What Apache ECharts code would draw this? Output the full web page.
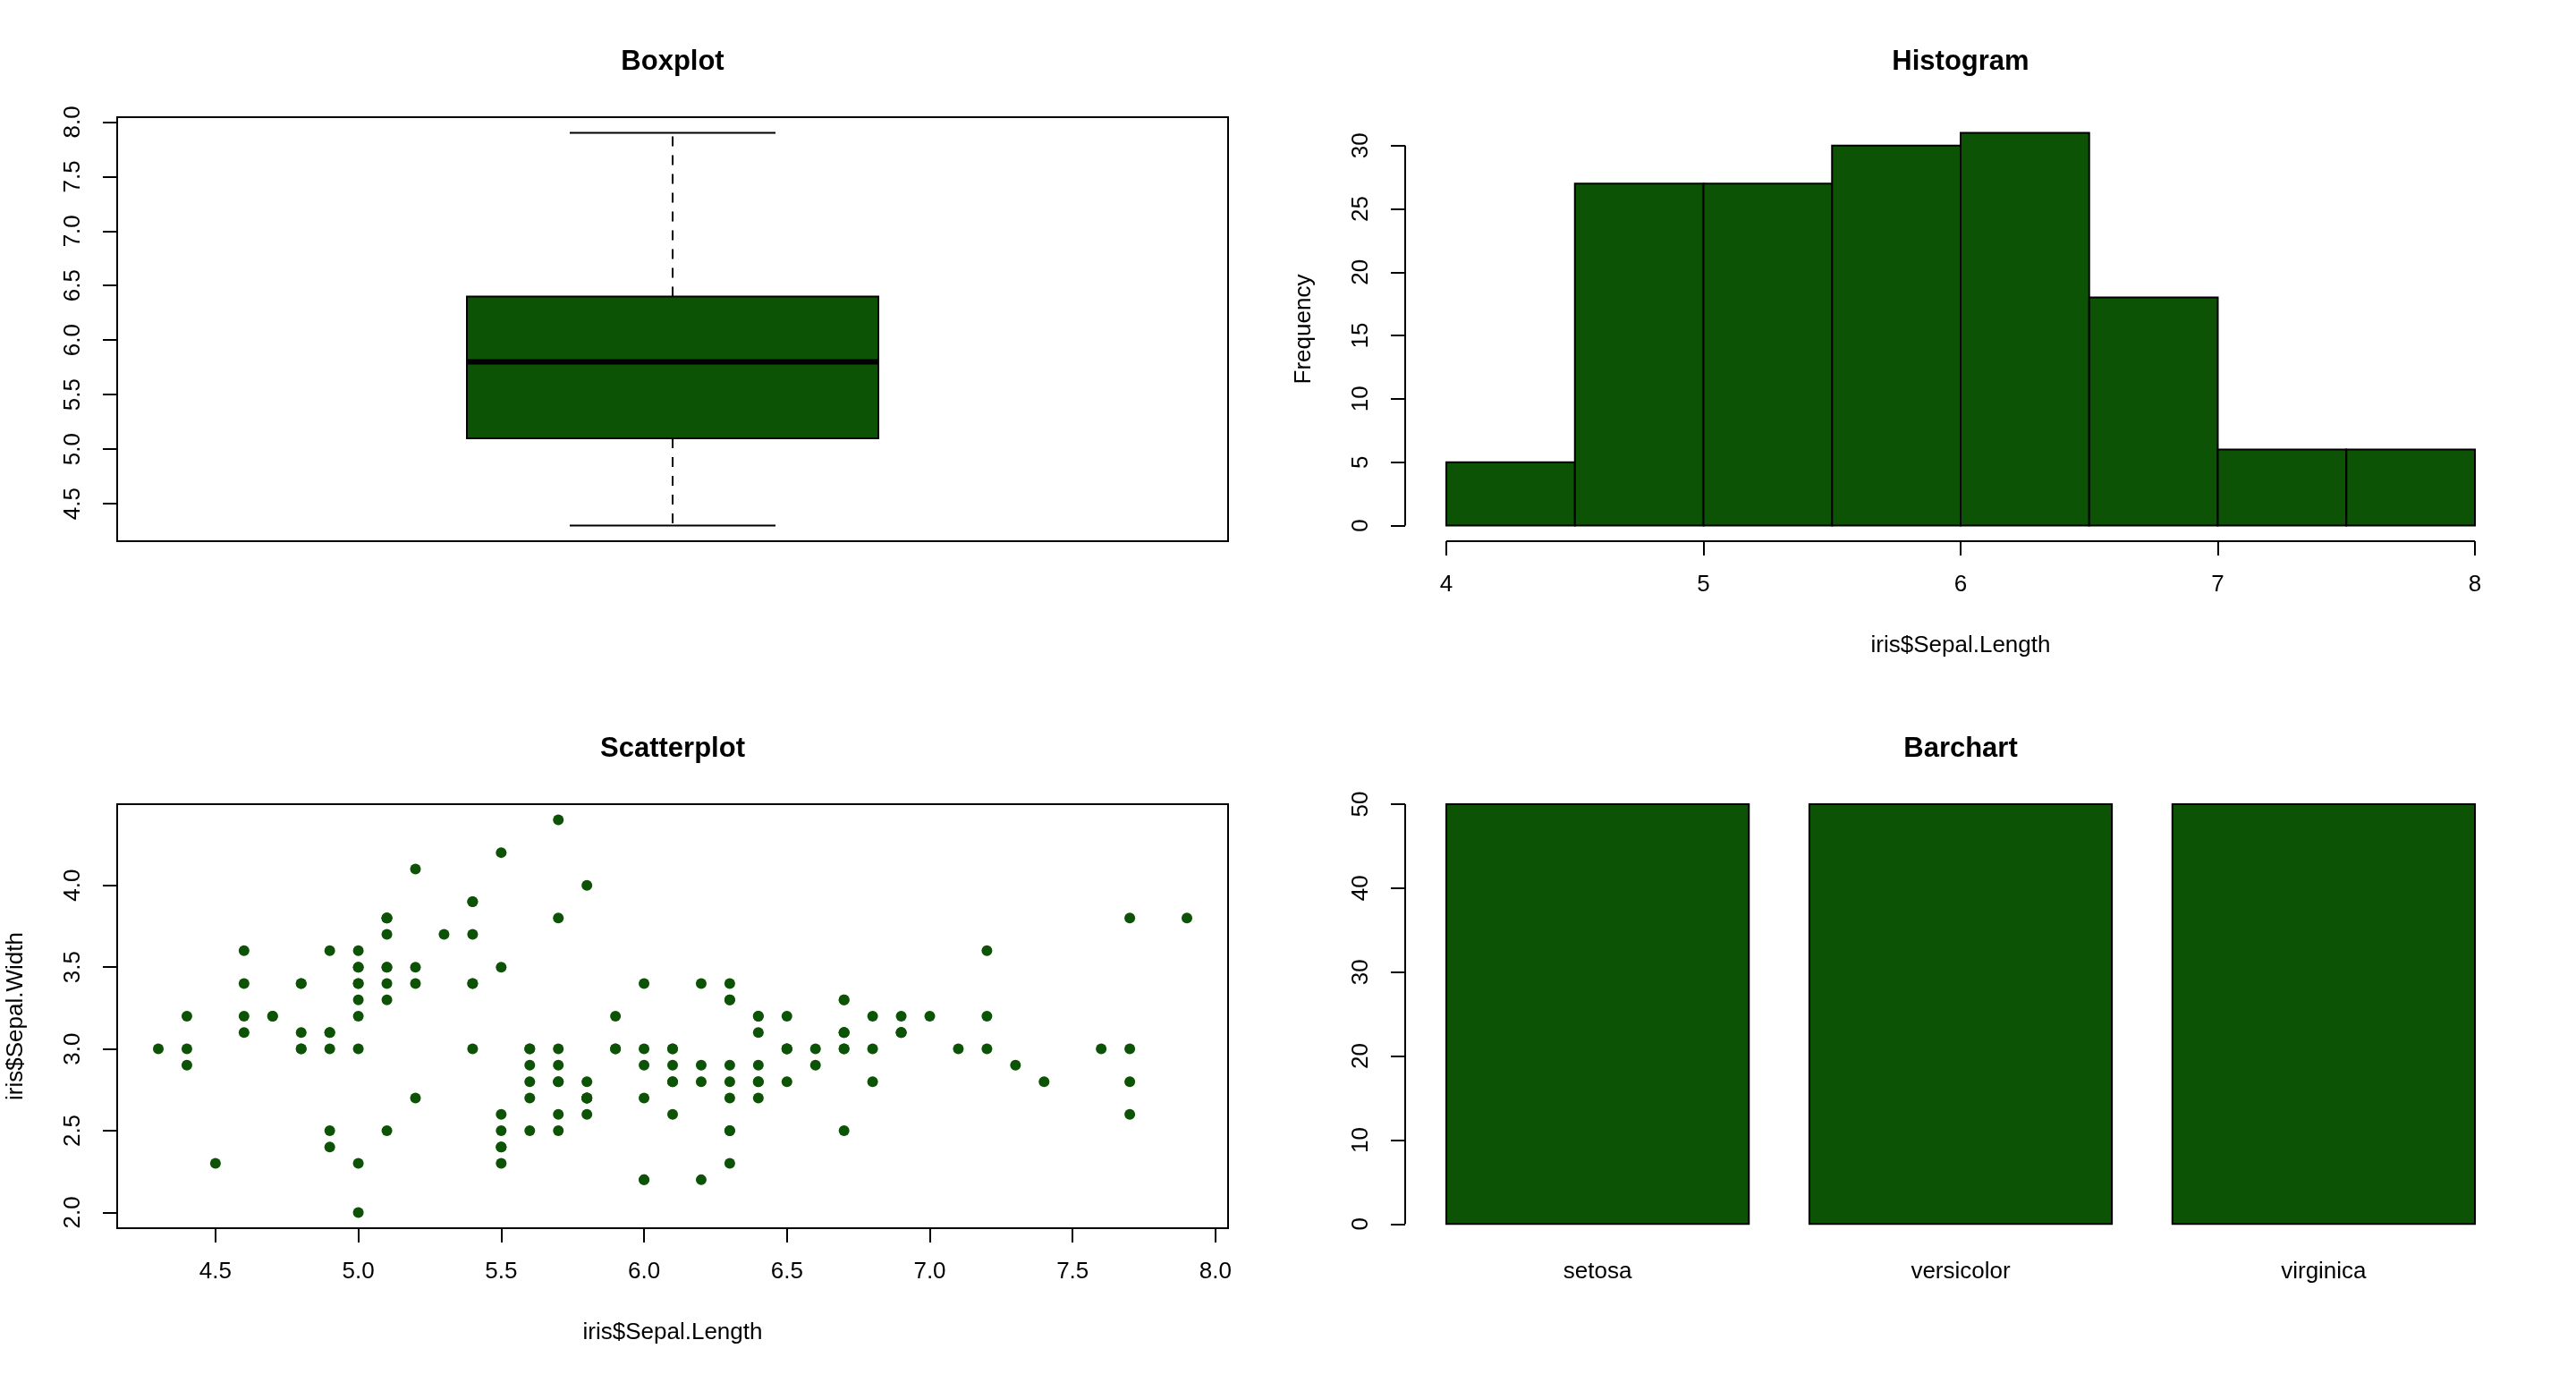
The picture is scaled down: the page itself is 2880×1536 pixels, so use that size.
<!DOCTYPE html>
<html>
<head>
<meta charset="utf-8">
<title>iris sepal plots</title>
<script src="https://cdn.jsdelivr.net/npm/echarts@6/dist/echarts.min.js"></script>
<style>
  html, body { margin: 0; padding: 0; background: #fff; }
  #chart { width: 2880px; height: 1536px; }
</style>
</head>
<body>
<div id="chart"></div>
<script>
// --- data (iris, Sepal.Length / Sepal.Width) ---
const boxStats = [4.3, 5.1, 5.8, 6.4, 7.9]; // min, Q1, median, Q3, max
const boxTicks = [4.5, 5.0, 5.5, 6.0, 6.5, 7.0, 7.5, 8.0];

const histBreaks = [4, 4.5, 5, 5.5, 6, 6.5, 7, 7.5, 8];
const histCounts = [5, 27, 27, 30, 31, 18, 6, 6];
const histXTicks = [4, 5, 6, 7, 8];
const histYTicks = [0, 5, 10, 15, 20, 25, 30];

const sepalLength = [
  5.1, 4.9, 4.7, 4.6, 5.0, 5.4, 4.6, 5.0, 4.4, 4.9, 5.4, 4.8, 4.8, 4.3, 5.8, 5.7, 5.4, 5.1, 5.7, 5.1,
  5.4, 5.1, 4.6, 5.1, 4.8, 5.0, 5.0, 5.2, 5.2, 4.7, 4.8, 5.4, 5.2, 5.5, 4.9, 5.0, 5.5, 4.9, 4.4, 5.1,
  5.0, 4.5, 4.4, 5.0, 5.1, 4.8, 5.1, 4.6, 5.3, 5.0,
  7.0, 6.4, 6.9, 5.5, 6.5, 5.7, 6.3, 4.9, 6.6, 5.2, 5.0, 5.9, 6.0, 6.1, 5.6, 6.7, 5.6, 5.8, 6.2, 5.6,
  5.9, 6.1, 6.3, 6.1, 6.4, 6.6, 6.8, 6.7, 6.0, 5.7, 5.5, 5.5, 5.8, 6.0, 5.4, 6.0, 6.7, 6.3, 5.6, 5.5,
  5.5, 6.1, 5.8, 5.0, 5.6, 5.7, 5.7, 6.2, 5.1, 5.7,
  6.3, 5.8, 7.1, 6.3, 6.5, 7.6, 4.9, 7.3, 6.7, 7.2, 6.5, 6.4, 6.8, 5.7, 5.8, 6.4, 6.5, 7.7, 7.7, 6.0,
  6.9, 5.6, 7.7, 6.3, 6.7, 7.2, 6.2, 6.1, 6.4, 7.2, 7.4, 7.9, 6.4, 6.3, 6.1, 7.7, 6.3, 6.4, 6.0, 6.9,
  6.7, 6.9, 5.8, 6.8, 6.7, 6.7, 6.3, 6.5, 6.2, 5.9
];
const sepalWidth = [
  3.5, 3.0, 3.2, 3.1, 3.6, 3.9, 3.4, 3.4, 2.9, 3.1, 3.7, 3.4, 3.0, 3.0, 4.0, 4.4, 3.9, 3.5, 3.8, 3.8,
  3.4, 3.7, 3.6, 3.3, 3.4, 3.0, 3.4, 3.5, 3.4, 3.2, 3.1, 3.4, 4.1, 4.2, 3.1, 3.2, 3.5, 3.6, 3.0, 3.4,
  3.5, 2.3, 3.2, 3.5, 3.8, 3.0, 3.8, 3.2, 3.7, 3.3,
  3.2, 3.2, 3.1, 2.3, 2.8, 2.8, 3.3, 2.4, 2.9, 2.7, 2.0, 3.0, 2.2, 2.9, 2.9, 3.1, 3.0, 2.7, 2.2, 2.5,
  3.2, 2.8, 2.5, 2.8, 2.9, 3.0, 2.8, 3.0, 2.9, 2.6, 2.4, 2.4, 2.7, 2.7, 3.0, 3.4, 3.1, 2.3, 3.0, 2.5,
  2.6, 3.0, 2.6, 2.3, 2.7, 3.0, 2.9, 2.9, 2.5, 2.8,
  3.3, 2.7, 3.0, 2.9, 3.0, 3.0, 2.5, 2.9, 2.5, 3.6, 3.2, 2.7, 3.0, 2.5, 2.8, 3.2, 3.0, 3.8, 2.6, 2.2,
  3.2, 2.8, 2.8, 2.7, 3.3, 3.2, 2.8, 3.0, 2.8, 3.0, 2.8, 3.8, 2.8, 2.8, 2.6, 3.0, 3.4, 3.1, 3.0, 3.1,
  3.1, 3.1, 2.7, 3.2, 3.3, 3.0, 2.5, 3.0, 3.4, 3.0
];
const scatterXTicks = [4.5, 5.0, 5.5, 6.0, 6.5, 7.0, 7.5, 8.0];
const scatterYTicks = [2.0, 2.5, 3.0, 3.5, 4.0];

const barCategories = ['setosa', 'versicolor', 'virginica'];
const barValues = [50, 50, 50];
const barYTicks = [0, 10, 20, 30, 40, 50];

// --- look ---
const GREEN = '#0c5305';
const FONT = '"Liberation Sans", Arial, Helvetica, sans-serif';
const LABEL_SIZE = 26;

// R style 4% axis extension
function ext(lo, hi) {
  const d = (hi - lo) * 0.04;
  return [lo - d, hi + d];
}
const boxY = ext(boxStats[0], boxStats[4]);
const boxX = ext(0.5, 1.5);
const histX = ext(histBreaks[0], histBreaks[histBreaks.length - 1]);
const histY = ext(0, Math.max(...histCounts));
const scX = ext(Math.min(...sepalLength), Math.max(...sepalLength));
const scY = ext(Math.min(...sepalWidth), Math.max(...sepalWidth));
// barplot: width 1, space 0.2
const barLeft = barValues.map((v, i) => 0.2 + i * 1.2);
const barMid = barLeft.map(l => l + 0.5);
const barX = ext(0.2, barLeft[barLeft.length - 1] + 1);
const barY = [-0.01 * Math.max(...barValues), Math.max(...barValues)];

// plot regions (R par defaults on a 1440x768 panel)
const regions = [
  { left: 131, top: 131 },
  { left: 1571, top: 131 },
  { left: 131, top: 899 },
  { left: 1571, top: 899 }
];
const PW = 1242, PH = 474;

const tickStyle = { color: '#000', width: 2 };
function valueAxis(idx, lim, ticks, fmt, vertical, extra) {
  const ax = {
    type: 'value',
    gridIndex: idx,
    min: lim[0],
    max: lim[1],
    axisLine: { show: false, onZero: false },
    splitLine: { show: false },
    axisTick: { show: true, customValues: ticks, length: 16, lineStyle: tickStyle },
    axisLabel: {
      customValues: ticks,
      formatter: fmt,
      rotate: vertical ? 90 : 0,
      color: '#000',
      fontSize: LABEL_SIZE,
      fontFamily: FONT,
      margin: 36
    },
    nameTextStyle: { color: '#000', fontSize: LABEL_SIZE, fontFamily: FONT },
    nameLocation: 'middle'
  };
  if (extra && extra.axisTick) Object.assign(ax.axisTick, extra.axisTick);
  if (extra && extra.axisLabel) Object.assign(ax.axisLabel, extra.axisLabel);
  if (extra) {
    ['name', 'nameGap', 'nameRotate'].forEach(k => {
      if (k in extra) ax[k] = extra[k];
    });
  }
  return ax;
}
const f1 = v => Number(v).toFixed(1);
const f0 = v => String(Math.round(v));

const chart = echarts.init(document.getElementById('chart'));

const titles = ['Boxplot', 'Histogram', 'Scatterplot', 'Barchart'].map((t, i) => ({
  text: t,
  left: regions[i].left + PW / 2,
  top: regions[i].top - 77,
  padding: 0,
  textAlign: 'center',
  textStyle: { fontSize: 31, fontWeight: 'bold', color: '#000', fontFamily: FONT }
}));

function segRender(params, api) {
  const a = api.coord([api.value(0), api.value(1)]);
  const b = api.coord([api.value(2), api.value(3)]);
  return {
    type: 'line',
    shape: { x1: a[0], y1: a[1], x2: b[0], y2: b[1] },
    style: { stroke: '#000', lineWidth: 2 }
  };
}

function rectRender(params, api) {
  const a = api.coord([api.value(0), api.value(2)]);
  const b = api.coord([api.value(1), 0]);
  return {
    type: 'rect',
    shape: { x: a[0], y: a[1], width: b[0] - a[0], height: b[1] - a[1] },
    style: { fill: GREEN, stroke: '#000', lineWidth: 2 }
  };
}

const option = {
  animation: false,
  backgroundColor: '#fff',
  title: titles,
  grid: regions.map((r, i) => ({
    left: r.left, top: r.top, width: PW, height: PH,
    show: i === 0 || i === 2,
    borderColor: '#000', borderWidth: 2, backgroundColor: 'transparent'
  })),
  xAxis: [
    valueAxis(0, boxX, [], f1, false, { axisTick: { show: false }, axisLabel: { show: false } }),
    valueAxis(1, histX, histXTicks, f0, false, { name: 'iris$Sepal.Length', nameGap: 104 }),
    valueAxis(2, scX, scatterXTicks, f1, false, { name: 'iris$Sepal.Length', nameGap: 104 }),
    valueAxis(3, barX, barMid, v => {
      const i = barMid.findIndex(m => Math.abs(m - v) < 1e-6);
      return i >= 0 ? barCategories[i] : '';
    }, false, { axisTick: { show: false } })
  ],
  yAxis: [
    valueAxis(0, boxY, boxTicks, f1, true),
    valueAxis(1, histY, histYTicks, f0, true, { name: 'Frequency', nameGap: 100, nameRotate: 90 }),
    valueAxis(2, scY, scatterYTicks, f1, true, { name: 'iris$Sepal.Width', nameGap: 100, nameRotate: 90 }),
    valueAxis(3, barY, barYTicks, f0, true)
  ],
  series: [
    {
      type: 'custom',
      name: 'boxplot',
      xAxisIndex: 0, yAxisIndex: 0,
      clip: false,
      data: [[1].concat(boxStats)],
      renderItem: function (params, api) {
        const x = api.value(0);
        const half = api.size([0.2, 0])[0];
        const cap = half / 2;
        const pMin = api.coord([x, api.value(1)]);
        const pQ1 = api.coord([x, api.value(2)]);
        const pMed = api.coord([x, api.value(3)]);
        const pQ3 = api.coord([x, api.value(4)]);
        const pMax = api.coord([x, api.value(5)]);
        const cx = pMed[0];
        const dash = { stroke: '#000', lineWidth: 2, lineDash: [11, 10] };
        const solid = { stroke: '#000', lineWidth: 2 };
        return {
          type: 'group',
          children: [
            { type: 'line', shape: { x1: cx, y1: pQ3[1], x2: cx, y2: pMax[1] }, style: dash },
            { type: 'line', shape: { x1: cx, y1: pQ1[1], x2: cx, y2: pMin[1] }, style: dash },
            { type: 'line', shape: { x1: cx - cap, y1: pMax[1], x2: cx + cap, y2: pMax[1] }, style: solid },
            { type: 'line', shape: { x1: cx - cap, y1: pMin[1], x2: cx + cap, y2: pMin[1] }, style: solid },
            {
              type: 'rect',
              shape: { x: cx - half, y: pQ3[1], width: half * 2, height: pQ1[1] - pQ3[1] },
              style: { fill: GREEN, stroke: '#000', lineWidth: 2 }
            },
            { type: 'line', shape: { x1: cx - half, y1: pMed[1], x2: cx + half, y2: pMed[1] }, style: { stroke: '#000', lineWidth: 6 } }
          ]
        };
      }
    },
    {
      type: 'custom',
      name: 'histogram',
      xAxisIndex: 1, yAxisIndex: 1,
      clip: false,
      data: histCounts.map((c, i) => [histBreaks[i], histBreaks[i + 1], c]),
      renderItem: rectRender
    },
    {
      type: 'custom',
      name: 'hist axes',
      xAxisIndex: 1, yAxisIndex: 1,
      clip: false,
      data: [
        [histX[0], histYTicks[0], histX[0], histYTicks[histYTicks.length - 1]],
        [histXTicks[0], histY[0], histXTicks[histXTicks.length - 1], histY[0]]
      ],
      renderItem: segRender
    },
    {
      type: 'scatter',
      name: 'scatter',
      xAxisIndex: 2, yAxisIndex: 2,
      symbol: 'circle',
      symbolSize: 12,
      itemStyle: { color: GREEN, opacity: 1 },
      data: sepalLength.map((x, i) => [x, sepalWidth[i]])
    },
    {
      type: 'custom',
      name: 'barchart',
      xAxisIndex: 3, yAxisIndex: 3,
      clip: false,
      data: barValues.map((v, i) => [barLeft[i], barLeft[i] + 1, v]),
      renderItem: rectRender
    },
    {
      type: 'custom',
      name: 'bar axis',
      xAxisIndex: 3, yAxisIndex: 3,
      clip: false,
      data: [[barX[0], barYTicks[0], barX[0], barYTicks[barYTicks.length - 1]]],
      renderItem: segRender
    }
  ]
};
chart.setOption(option);
</script>
</body>
</html>
